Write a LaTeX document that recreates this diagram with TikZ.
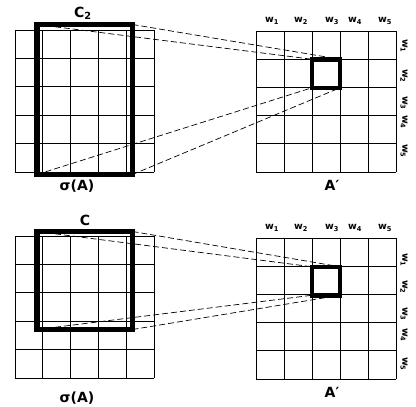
\documentclass[tikz,border=0pt]{standalone}
\usepackage{fontspec}
\setmainfont{DejaVu Sans}
\usepackage{tikz}

\tikzset{
  gridline/.style={black, line width=0.8pt},
  bigbox/.style={draw, line width=5.5pt, outer sep=0pt, inner sep=0pt},
  cellbox/.style={draw, line width=4.5pt, outer sep=0pt, inner sep=0pt, minimum width=28pt, minimum height=28.5pt},
  link/.style={line width=0.7pt, dash pattern=on 6pt off 3pt},
  lbl/.style={font=\bfseries\fontsize{14}{15}\selectfont, inner sep=0pt},
  wlbl/.style={font=\bfseries\fontsize{9.5}{10}\selectfont, inner sep=0pt}
}

\begin{document}
\begin{tikzpicture}[x=1pt, y=-1pt]
  \useasboundingbox (0,0) rectangle (416,407);

  % top left grid
  \foreach \i in {0,...,5} {
    \draw[gridline] ({15+\i*27.8},30) -- ({15+\i*27.8},172);
    \draw[gridline] (15,{30+\i*28.4}) -- (154,{30+\i*28.4});
  }
  % top right grid
  \foreach \i in {0,...,5} {
    \draw[gridline] ({256+\i*28},31) -- ({256+\i*28},172);
    \draw[gridline] (256,{31+\i*28.2}) -- (396,{31+\i*28.2});
  }
  % bottom left grid
  \foreach \i in {0,...,5} {
    \draw[gridline] ({15+\i*27.8},236) -- ({15+\i*27.8},378);
    \draw[gridline] (15,{236+\i*28.4}) -- (154,{236+\i*28.4});
  }
  % bottom right grid
  \foreach \i in {0,...,5} {
    \draw[gridline] ({256+\i*28},238) -- ({256+\i*28},379);
    \draw[gridline] (256,{238+\i*28.2}) -- (396,{238+\i*28.2});
  }

  % windows
  \node[bigbox, minimum width=95.5pt, minimum height=150pt] (c2box) at (84.75,99.5) {};
  \node[cellbox] (topcell) at (326,73.5) {};
  \node[bigbox, minimum width=95.5pt, minimum height=98pt] (cbox) at (84.75,280.5) {};
  \node[cellbox] (botcell) at (326,281) {};

  % dashed links
  \draw[link] (c2box.north west) -- (topcell.north west);
  \draw[link] (c2box.north east) -- (topcell.north east);
  \draw[link] (c2box.south west) -- (topcell.south west);
  \draw[link] (c2box.south east) -- (topcell.south east);
  \draw[link] (cbox.north west) -- (botcell.north west);
  \draw[link] (cbox.north east) -- (botcell.north east);
  \draw[link] (cbox.south west) -- (botcell.south west);
  \draw[link] (cbox.south east) -- (botcell.south east);

  % labels
  \node[lbl] (c2lbl) at (83,13) {C\textsubscript{2}};
  \node[lbl] (sigtop) at (77,186) {σ(A)};
  \node[lbl] (atop) at (332,185) {A′};
  \node[lbl] (clbl) at (85,220) {C};
  \node[lbl] (sigbot) at (77,398) {σ(A)};
  \node[lbl] (abot) at (332,392) {A′};

  \node[wlbl] (tc1) at (272,21) {w\textsubscript{1}};
  \node[wlbl] (tc2) at (301,21) {w\textsubscript{2}};
  \node[wlbl] (tc3) at (332,21) {w\textsubscript{3}};
  \node[wlbl] (tc4) at (355,21) {w\textsubscript{4}};
  \node[wlbl] (tc5) at (385,21) {w\textsubscript{5}};
  \node[wlbl, rotate=-90] (tr1) at (404,46) {w\textsubscript{1}};
  \node[wlbl, rotate=-90] (tr2) at (404,76) {w\textsubscript{2}};
  \node[wlbl, rotate=-90] (tr3) at (404,103) {w\textsubscript{3}};
  \node[wlbl, rotate=-90] (tr4) at (404,122) {w\textsubscript{4}};
  \node[wlbl, rotate=-90] (tr5) at (404,151) {w\textsubscript{5}};

  \node[wlbl] (bc1) at (272,228) {w\textsubscript{1}};
  \node[wlbl] (bc2) at (301,228) {w\textsubscript{2}};
  \node[wlbl] (bc3) at (332,228) {w\textsubscript{3}};
  \node[wlbl] (bc4) at (355,228) {w\textsubscript{4}};
  \node[wlbl] (bc5) at (385,228) {w\textsubscript{5}};
  \node[wlbl, rotate=-90] (br1) at (404,260) {w\textsubscript{1}};
  \node[wlbl, rotate=-90] (br2) at (404,287) {w\textsubscript{2}};
  \node[wlbl, rotate=-90] (br3) at (404,314) {w\textsubscript{3}};
  \node[wlbl, rotate=-90] (br4) at (404,335) {w\textsubscript{4}};
  \node[wlbl, rotate=-90] (br5) at (404,364) {w\textsubscript{5}};
\end{tikzpicture}
\end{document}
